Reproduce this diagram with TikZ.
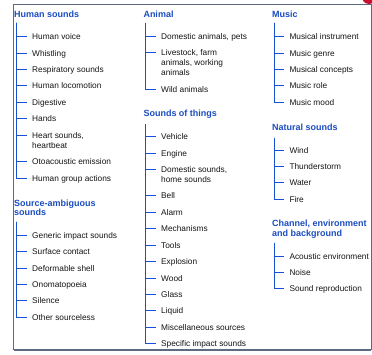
\documentclass[tikz,border=0pt]{standalone}
\usepackage{fontspec}
\setmainfont{Liberation Sans}
\definecolor{hblue}{HTML}{1A4CC0}
\definecolor{tblue}{HTML}{1850D4}
\definecolor{itext}{HTML}{141414}
\definecolor{framec}{HTML}{5B6B82}
\definecolor{redc}{HTML}{C8102E}
\newcommand\mylines[1]{\begin{tabular}[t]{@{}l@{}}#1\end{tabular}}
\tikzset{
 head/.style={anchor=base west, inner sep=0pt, text=hblue, yshift=-3.3pt,
   font=\fontsize{9}{9.5}\selectfont\bfseries},
 item/.style={anchor=base west, inner sep=0pt, text=itext, yshift=-3pt,
   font=\fontsize{8.3}{10}\selectfont},
 tree/.style={draw=tblue, line width=1.4pt},
 tick/.style={shift={(-5pt,3pt)}},
}
\begin{document}
\begin{tikzpicture}[x=1pt,y=-1pt]
\useasboundingbox (0,0) rectangle (372,354);
\fill[redc] (369,-3) circle (7);
\draw[framec, line width=1pt] (13.5,4.5) rectangle (371,349.5);
\draw[framec, line width=2pt] (13.5,350) -- (371,350);

% ---- Column 1: Human sounds
\node[head] (h1) at (14,14) {Human sounds};
\coordinate (s1) at (16.5,22.7);
\node[item] (a1) at (32,36.5) {Human voice};
\node[item] (a2) at (32,53.5) {Whistling};
\node[item] (a3) at (32,69.5) {Respiratory sounds};
\node[item] (a4) at (32,85.5) {Human locomotion};
\node[item] (a5) at (32,102.5) {Digestive};
\node[item] (a6) at (32,118.5) {Hands};
\node[item] (a7) at (32,135.5) {\mylines{Heart sounds,\\heartbeat}};
\node[item] (a8) at (32,161.5) {Otoacoustic emission};
\node[item] (a9) at (32,178.5) {Human group actions};
\foreach \n in {a1,a2,a3,a4,a5,a6,a7,a8,a9}
  \draw[tree] (s1) |- ([tick]\n.base west);

% ---- Column 1: Source-ambiguous sounds
\node[head] (h2) at (14,202.7) {\mylines{Source-ambiguous\\sounds}};
\coordinate (s2) at (16.5,221.7);
\node[item] (b1) at (32,235.5) {Generic impact sounds};
\node[item] (b2) at (32,251.5) {Surface contact};
\node[item] (b3) at (32,268.5) {Deformable shell};
\node[item] (b4) at (32,284.5) {Onomatopoeia};
\node[item] (b5) at (32,300.5) {Silence};
\node[item] (b6) at (32,317.5) {Other sourceless};
\foreach \n in {b1,b2,b3,b4,b5,b6}
  \draw[tree] (s2) |- ([tick]\n.base west);

% ---- Column 2: Animal
\node[head] (h3) at (143.3,13.7) {Animal};
\coordinate (s3) at (145.5,22.7);
\node[item] (c1) at (161,36.5) {Domestic animals, pets};
\node[item] (c2) at (161,52.5) {\mylines{Livestock, farm\\animals, working\\animals}};
\node[item] (c3) at (161,89.5) {Wild animals};
\foreach \n in {c1,c2,c3}
  \draw[tree] (s3) |- ([tick]\n.base west);

% ---- Column 2: Sounds of things
\node[head] (h4) at (143.3,113.3) {Sounds of things};
\coordinate (s4) at (145.5,124);
\node[item] (d1) at (161,136.5) {Vehicle};
\node[item] (d2) at (161,153.5) {Engine};
\node[item] (d3) at (161,169.5) {\mylines{Domestic sounds,\\home sounds}};
\node[item] (d4) at (161,195.5) {Bell};
\node[item] (d5) at (161,212.5) {Alarm};
\node[item] (d6) at (161,228.5) {Mechanisms};
\node[item] (d7) at (161,245.5) {Tools};
\node[item] (d8) at (161,261.5) {Explosion};
\node[item] (d9) at (161,278.5) {Wood};
\node[item] (d10) at (161,294.5) {Glass};
\node[item] (d11) at (161,310.5) {Liquid};
\node[item] (d12) at (161,327.5) {Miscellaneous sources};
\node[item] (d13) at (161,343.5) {Specific impact sounds};
\foreach \n in {d1,d2,d3,d4,d5,d6,d7,d8,d9,d10,d11,d12,d13}
  \draw[tree] (s4) |- ([tick]\n.base west);

% ---- Column 3: Music
\node[head] (h5) at (272,14) {Music};
\coordinate (s5) at (274.5,22.7);
\node[item] (e1) at (289.3,36.5) {Musical instrument};
\node[item] (e2) at (289.3,53.5) {Music genre};
\node[item] (e3) at (289.3,69.5) {Musical concepts};
\node[item] (e4) at (289.3,85.5) {Music role};
\node[item] (e5) at (289.3,102.5) {Music mood};
\foreach \n in {e1,e2,e3,e4,e5}
  \draw[tree] (s5) |- ([tick]\n.base west);

% ---- Column 3: Natural sounds
\node[head] (h6) at (272,126.7) {Natural sounds};
\coordinate (s6) at (274.5,137.7);
\node[item] (f1) at (289.3,150.5) {Wind};
\node[item] (f2) at (289.3,166.5) {Thunderstorm};
\node[item] (f3) at (289.3,182.5) {Water};
\node[item] (f4) at (289.3,199.5) {Fire};
\foreach \n in {f1,f2,f3,f4}
  \draw[tree] (s6) |- ([tick]\n.base west);

% ---- Column 3: Channel, environment and background
\node[head] (h7) at (272,223.3) {\mylines{Channel, environment\\and background}};
\coordinate (s7) at (274.5,242.7);
\node[item] (g1) at (289.3,256.5) {Acoustic environment};
\node[item] (g2) at (289.3,272.5) {Noise};
\node[item] (g3) at (289.3,288.5) {Sound reproduction};
\foreach \n in {g1,g2,g3}
  \draw[tree] (s7) |- ([tick]\n.base west);
\end{tikzpicture}
\end{document}
